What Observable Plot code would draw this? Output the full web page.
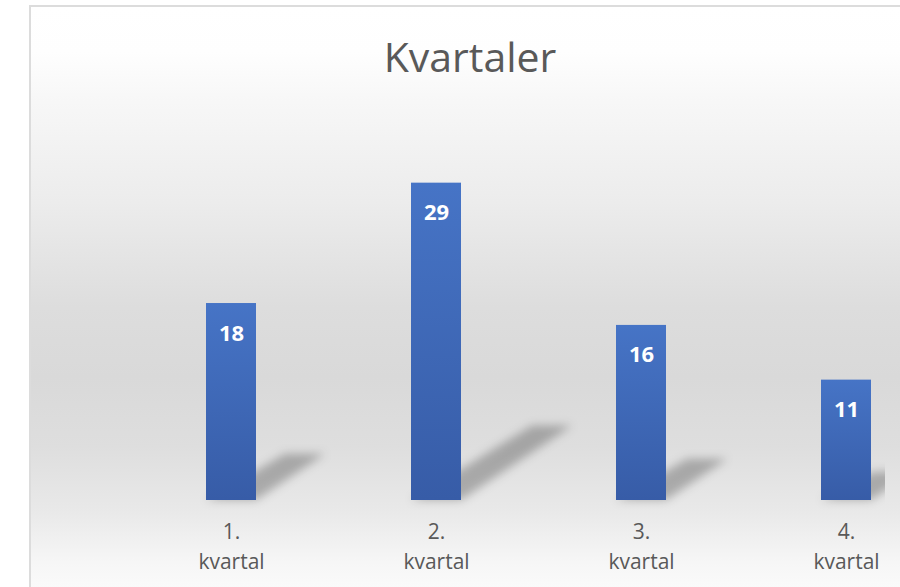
<!DOCTYPE html>
<html>
<head>
<meta charset="utf-8">
<script src="https://cdn.jsdelivr.net/npm/d3@7"></script>
<script src="https://cdn.jsdelivr.net/npm/@observablehq/plot@0.6"></script>
<style>
  html, body { margin: 0; padding: 0; width: 900px; height: 587px; overflow: hidden; background: #fff; }
  #frame {
    position: absolute; left: 29px; top: 5px; width: 880px; height: 640px;
    border: 2px solid #dcdcdc; box-sizing: border-box;
    background: linear-gradient(to bottom,
      #ffffff 0px, #fefefe 45px, #f7f7f7 95px, #ececec 195px,
      #dddddd 300px, #d9d9d9 370px, #dedede 440px, #e9e9e9 505px, #f6f6f6 555px, #fdfdfd 600px, #ffffff 640px);
  }
  #title {
    position: absolute; left: 30px; width: 880px; top: 36px; text-align: center;
    font-family: "Open Sans", sans-serif; font-size: 41px; line-height: 41px; color: #595959;
  }
  #chart { position: absolute; left: 0; top: 0; }
</style>
</head>
<body>
<div id="frame"></div>
<div id="title"></div>
<div id="chart"></div>
<script>
const title = "Kvartaler";
const categories = ["1. kvartal", "2. kvartal", "3. kvartal", "4. kvartal"];
const values = [18, 29, 16, 11];

const data = categories.map((c, i) => ({category: c, value: values[i]}));

document.getElementById("title").textContent = title;

const chart = Plot.plot({
  width: 885,
  height: 587,
  marginTop: 117,
  marginBottom: 87,
  marginLeft: 0,
  marginRight: 0,
  style: {background: "transparent", overflow: "hidden", fontFamily: "Open Sans, sans-serif"},
  x: {domain: categories, range: [51, 1026], padding: 0.756, axis: null},
  y: {domain: [0, 35], axis: null},
  marks: [
    Plot.barY(data, {x: "category", y: "value", fill: "#4472c4"}),
    Plot.text(data, {x: "category", y: "value", text: d => String(d.value), dy: 30,
      fill: "white", fontSize: 22, fontWeight: "bold"}),
    Plot.text(data, {x: "category", text: d => d.category.replace(" ", "\n"),
      frameAnchor: "bottom", lineAnchor: "top", dy: 17, fontSize: 21, lineHeight: 1.43, fill: "#595959"})
  ]
});
document.getElementById("chart").appendChild(chart);

// Styling: gradient bars and blurred projected shadows derived from the rendered bars
const svg = d3.select(chart);
const defs = svg.insert("defs", ":first-child");
const grad = defs.append("linearGradient").attr("id", "barGrad")
  .attr("x1", 0).attr("y1", 0).attr("x2", 0).attr("y2", 1);
grad.append("stop").attr("offset", "0%").attr("stop-color", "#4674c6");
grad.append("stop").attr("offset", "100%").attr("stop-color", "#375ca7");
const filt = defs.append("filter").attr("id", "shadowBlur")
  .attr("x", "-50%").attr("y", "-50%").attr("width", "200%").attr("height", "200%");
filt.append("feGaussianBlur").attr("stdDeviation", 5);

const barG = svg.select("g[aria-label='bar']");
barG.attr("fill", "url(#barGrad)");
const shadowG = svg.insert("g", "g[aria-label='bar']")
  .attr("transform", barG.attr("transform"))
  .attr("filter", "url(#shadowBlur)").attr("fill", "#000").attr("fill-opacity", 0.26);
barG.selectAll("rect").each(function() {
  const r = d3.select(this);
  const x = +r.attr("x"), y = +r.attr("y"), w = +r.attr("width"), h = +r.attr("height");
  const base = y + h, dx = 0.35 * h, dy = -0.235 * h;
  shadowG.append("polygon").attr("points",
    [[x, base], [x + w, base], [x + w + dx, base + dy], [x + dx + w * 0.2, base + dy]].map(p => p.join(",")).join(" "));
});
</script>
</body>
</html>
